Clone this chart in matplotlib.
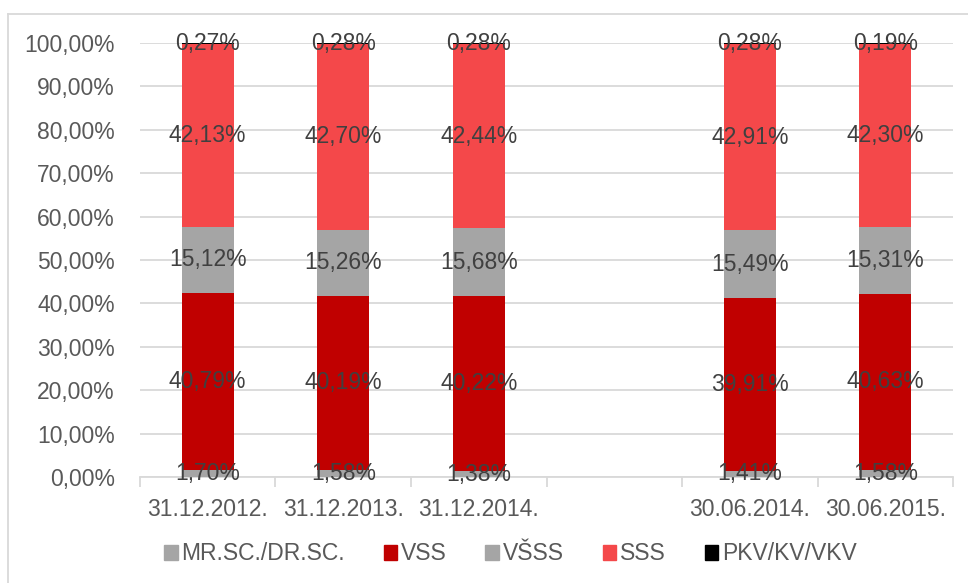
import numpy as np
import matplotlib.pyplot as plt
from matplotlib.lines import Line2D

plt.rcParams['font.family'] = ['Liberation Sans', 'DejaVu Sans']

categories = ['31.12.2012.', '31.12.2013.', '31.12.2014.', '', '30.06.2014.', '30.06.2015.']
series = ['MR.SC./DR.SC.', 'VSS', 'VŠSS', 'SSS', 'PKV/KV/VKV']
mr_sc = [1.70, 1.58, 1.38, np.nan, 1.41, 1.58]
vss = [40.79, 40.19, 40.22, np.nan, 39.91, 40.63]
vsss = [15.12, 15.26, 15.68, np.nan, 15.49, 15.31]
sss = [42.13, 42.70, 42.44, np.nan, 42.91, 42.30]
pkv = [0.27, 0.28, 0.28, np.nan, 0.28, 0.19]
colors = ['#a5a5a5', '#c00000', '#a5a5a5', '#f4484a', '#000000']

txt = '#595959'
grid = '#d9d9d9'
fs = 16.5

fig = plt.figure(figsize=(9.68, 5.83), dpi=100)
ax = fig.add_axes([0.1446, 0.1818, 0.84, 0.7444])

x = np.arange(len(categories))
bottom = np.zeros(len(categories))
for name, vals, c in zip(series, [mr_sc, vss, vsss, sss, pkv], colors):
    v = np.nan_to_num(np.array(vals, dtype=float))
    ax.bar(x, v, 0.385, bottom=bottom, color=c, zorder=3)
    for i in range(len(categories)):
        if v[i] > 0:
            ax.text(x[i], bottom[i] + v[i] / 2, f'{v[i]:.2f}%'.replace('.', ','),
                    ha='center', va='center', fontsize=fs, color='#404040', zorder=4)
    bottom += v

ax.set_xlim(-0.5, len(categories) - 0.5)
ax.set_ylim(0, 100)
ax.set_yticks(np.arange(0, 101, 10))
ax.set_yticklabels([f'{t},00%' for t in range(0, 101, 10)])
ax.set_xticks(x)
ax.set_xticklabels(categories)
ax.set_xticks(np.arange(-0.5, len(categories), 1), minor=True)
ax.tick_params(axis='y', length=0, labelsize=fs, labelcolor=txt, pad=18)
ax.tick_params(axis='x', which='major', length=0, labelsize=fs, labelcolor=txt, pad=15)
ax.tick_params(axis='x', which='minor', length=7, color=grid, width=1.3)
ax.yaxis.grid(True, color=grid, linewidth=1.3, zorder=0)
for s in ['top', 'right', 'left']:
    ax.spines[s].set_visible(False)
ax.spines['bottom'].set_color(grid)
ax.spines['bottom'].set_linewidth(1.3)

handles = [plt.Rectangle((0, 0), 1, 1, color=c) for c in colors]
fig.legend(handles, series, loc='center', bbox_to_anchor=(0.527, 0.05), ncol=5,
           frameon=False, fontsize=fs, labelcolor=txt, handlelength=0.6, handleheight=0.6,
           handletextpad=0.15, columnspacing=1.7)

# chart border (top and left only visible)
fig.add_artist(Line2D([8 / 968, 1], [1 - 14 / 583, 1 - 14 / 583], color=grid, lw=1.3))
fig.add_artist(Line2D([8 / 968, 8 / 968], [0, 1 - 14 / 583], color=grid, lw=1.3))

fig.savefig('out.png')
